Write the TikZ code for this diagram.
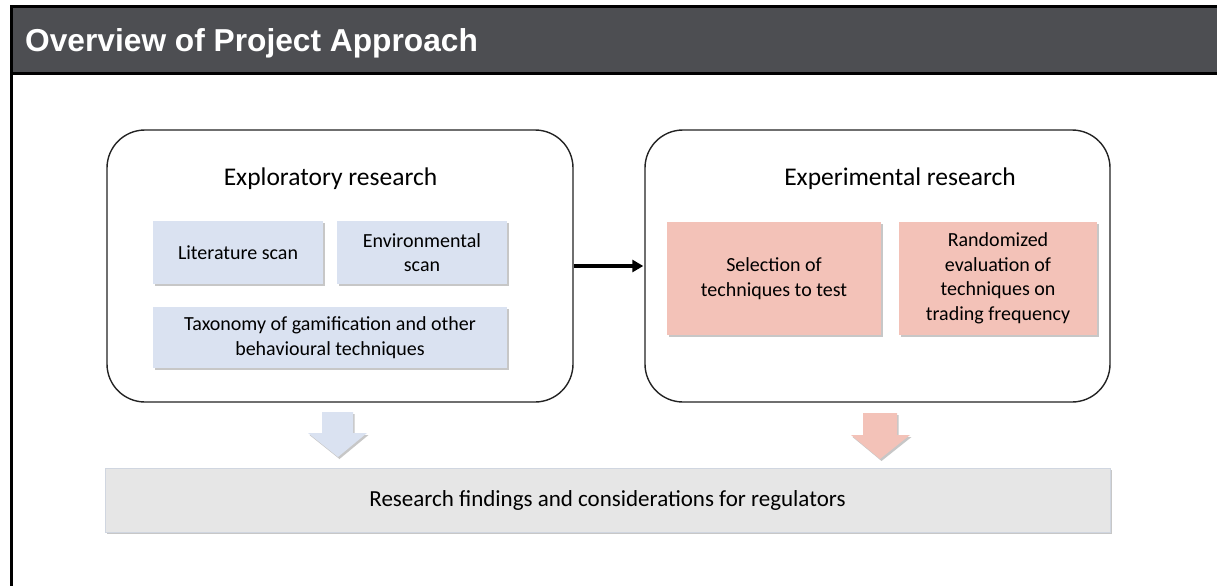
\documentclass[tikz,border=0pt]{standalone}
\usepackage{fontspec}
\setmainfont{Carlito}
\newfontfamily\headfont{Liberation Sans}
\usetikzlibrary{shadows,arrows.meta}
\definecolor{hdrgray}{RGB}{77,78,82}
\definecolor{boxblue}{RGB}{218,226,241}
\definecolor{boxpink}{RGB}{243,194,184}
\definecolor{boxgray}{RGB}{230,230,230}
\definecolor{outline}{RGB}{35,35,35}
\definecolor{grayedge}{RGB}{208,214,224}
\begin{document}
\begin{tikzpicture}[x=1pt,y=-1pt,
  groupbox/.style={draw=outline, line width=1.4pt, rounded corners=38pt, fill=white, inner sep=0pt},
  grouptitle/.style={font=\fontsize{25.5}{30}\selectfont, inner sep=0pt, anchor=base},
  softshadow/.style={drop shadow={shadow xshift=1.5pt, shadow yshift=-2pt, fill=black!40, opacity=0.55}},
  subbox/.style={inner sep=0pt, align=center, font=\fontsize{20}{24.5}\selectfont, softshadow},
  bluebox/.style={subbox, fill=boxblue},
  pinkbox/.style={subbox, fill=boxpink},
  graybox/.style={subbox, fill=boxgray, draw=grayedge, line width=0.6pt, font=\fontsize{23}{27}\selectfont},
  flowline/.style={line width=3.2pt, -{Triangle[length=11pt,width=12pt]}, shorten >=1pt}
]
\useasboundingbox (0,0) rectangle (1217,586);
\fill[white] (0,0) rectangle (1217,586);
% header
\fill[hdrgray] (10,8) rectangle (1217,72);
\fill[black] (10,5) rectangle (1217,8);
\fill[black] (10,72) rectangle (1217,75);
\fill[black] (10,5) rectangle (13,586);
\node[anchor=base west, inner sep=0pt, text=white, font=\headfont\bfseries\fontsize{31.7}{38}\selectfont] (hdr) at (25,51.5) {Overview of Project Approach};

% group boxes
\node[groupbox, minimum width=466pt, minimum height=272pt] (expl) at (340,266) {};
\node[groupbox, minimum width=465pt, minimum height=272pt] (expe) at (877.5,266) {};
\node[grouptitle] (explt) at (330.5,185) {Exploratory research};
\node[grouptitle] (expet) at (900,185) {Experimental research};

% inner boxes
\node[bluebox, minimum width=170pt, minimum height=63pt] (lit) at (238,252.5) {Literature scan};
\node[bluebox, minimum width=170pt, minimum height=63pt] (env) at (422,252.5) {Environmental\\scan};
\node[bluebox, minimum width=354pt, minimum height=61pt] (tax) at (330,337.5) {Taxonomy of gamification and other\\behavioural techniques};
\node[pinkbox, minimum width=214pt, minimum height=113pt] (sel) at (774,278.5) {Selection of\\techniques to test};
\node[pinkbox, minimum width=198pt, minimum height=113pt] (rnd) at (998,278.5) {Randomized\\evaluation of\\techniques on\\trading frequency};

% connector
\draw[flowline] (expl.east) -- (expe.west);

% block arrows
\fill[boxblue, softshadow] (322,412) -- (353,412) -- (353,433) -- (367,433) -- (338,457) -- (308,433) -- (322,433) -- cycle;
\fill[boxpink, softshadow] (863,413) -- (897,413) -- (897,435) -- (910,435) -- (880,459) -- (851,435) -- (863,435) -- cycle;

% bottom box
\node[graybox, minimum width=1005pt, minimum height=64pt] (res) at (607.5,500) {Research findings and considerations for regulators};
\end{tikzpicture}
\end{document}
